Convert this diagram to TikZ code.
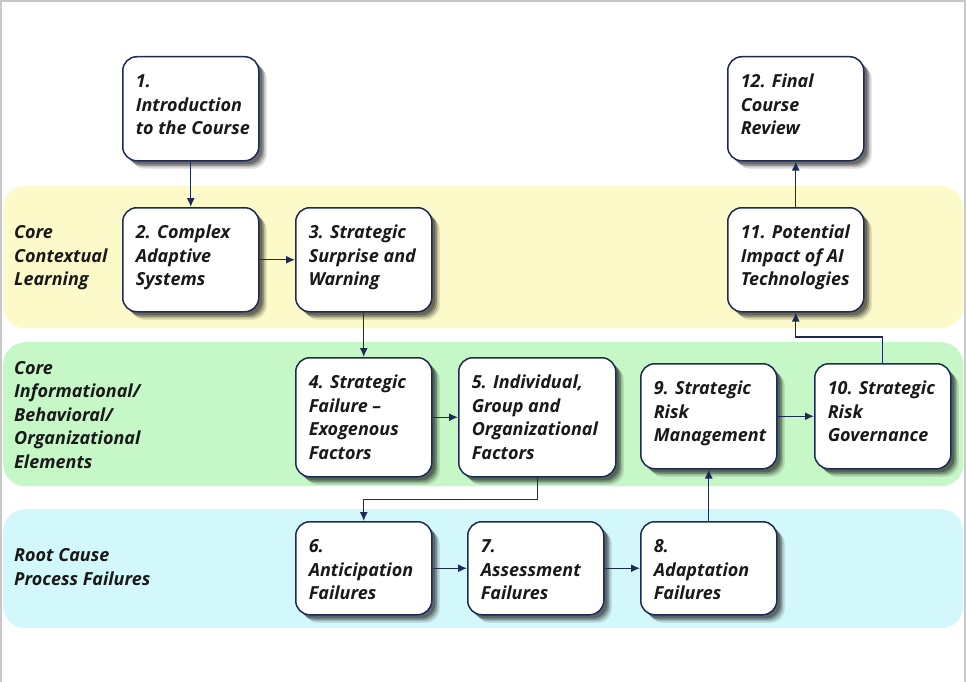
\documentclass[tikz,border=0pt]{standalone}
\usepackage{fontspec}
\setmainfont{Open Sans}
\usetikzlibrary{arrows.meta,shadows}
\definecolor{bandY}{HTML}{FCFAC9}
\definecolor{bandG}{HTML}{C6F7C7}
\definecolor{bandC}{HTML}{D3F8FB}
\definecolor{navy}{HTML}{1C2A55}
\definecolor{frame}{HTML}{C8C8C8}
\tikzset{
  band/.style={draw=none, rounded corners=22pt, anchor=north west, inner sep=0pt},
  box/.style={draw=navy, line width=1.5pt, fill=white, rounded corners=14pt,
    anchor=north west, inner sep=0pt,
    drop shadow={shadow xshift=8pt, shadow yshift=-8pt, opacity=0.10, fill=black},
    drop shadow={shadow xshift=6.5pt, shadow yshift=-6.5pt, opacity=0.16, fill=black},
    drop shadow={shadow xshift=5pt, shadow yshift=-5pt, opacity=0.22, fill=black},
    drop shadow={shadow xshift=3.5pt, shadow yshift=-3.5pt, opacity=0.28, fill=black}},
  conn/.style={draw=navy, line width=1.4pt, -{Latex[length=9pt,width=8pt]}},
  lbl/.style={anchor=west, align=left, inner sep=0pt, text=black!90,
    font=\bfseries\itshape\fontsize{18}{23.5}\selectfont}
}
\newcommand\boxtext[3]{\parbox[c][#2][t]{#1}{\raggedright\leftskip=13pt\fontsize{18}{23.5}\selectfont\bfseries\itshape\color{black!90}\vspace*{16pt}\rule{0pt}{15pt}#3}}
\newcommand\mybox[6]{\node[box] (#1) at (#2,#3) {\boxtext{#4pt}{#5pt}{#6}};}
\begin{document}
\begin{tikzpicture}[x=1pt,y=-1pt]
\useasboundingbox (0,0) rectangle (966,682);
\fill[white] (0,0) rectangle (966,682);
\draw[frame, line width=2pt] (1,682) -- (1,1) -- (965,1) -- (965,682);
% bands
\node[band, fill=bandY, minimum width=960pt, minimum height=142pt] (bY) at (3,186) {};
\node[band, fill=bandG, minimum width=960pt, minimum height=144pt] (bG) at (3,342) {};
\node[band, fill=bandC, minimum width=960pt, minimum height=119pt] (bC) at (3,509) {};
\node[lbl] (lY) at (14,258) {Core\\Contextual\\Learning};
\node[lbl] (lG) at (14,415) {Core\\Informational/\\Behavioral/\\Organizational\\Elements};
\node[lbl] (lC) at (14,567) {Root Cause\\Process Failures};
% boxes
\mybox{n1}{122}{56}{136}{104}{1.\\Introduction\\to the Course}
\mybox{n2}{122}{207}{136}{104}{2. Complex\\Adaptive\\Systems}
\mybox{n3}{295}{207}{136}{104}{3. Strategic\\Surprise and\\Warning}
\mybox{n12}{727}{56}{136}{104}{12. Final\\Course\\Review}
\mybox{n11}{727}{207}{136}{104}{11. Potential\\Impact of AI\\Technologies}
\mybox{n4}{295}{357}{136}{119}{4. Strategic\\Failure --\\Exogenous\\Factors}
\mybox{n5}{458}{357}{157}{119}{5. Individual,\\Group and\\Organizational\\Factors}
\mybox{n9}{640}{363}{136}{105}{9. Strategic\\Risk\\Management}
\mybox{n10}{814}{363}{136}{105}{10. Strategic\\Risk\\Governance}
\mybox{n6}{295}{521}{136}{93}{6.\\Anticipation\\Failures}
\mybox{n7}{467}{521}{136}{93}{7.\\Assessment\\Failures}
\mybox{n8}{640}{521}{136}{93}{8.\\Adaptation\\Failures}
% connectors
\draw[conn] (n1) -- (n2);
\draw[conn] (n2) -- (n3);
\draw[conn] (n3) -- (n4);
\draw[conn] (n4) -- (n5);
\draw[conn] (n5.south) -- ++(0,22) -| (n6.north);
\draw[conn] (n6) -- (n7);
\draw[conn] (n7) -- (n8);
\draw[conn] (n8) -- (n9);
\draw[conn] (n9) -- (n10);
\draw[conn] (n10.north) -- ++(0,-26) -| (n11.south);
\draw[conn] (n11) -- (n12);
\end{tikzpicture}
\end{document}
